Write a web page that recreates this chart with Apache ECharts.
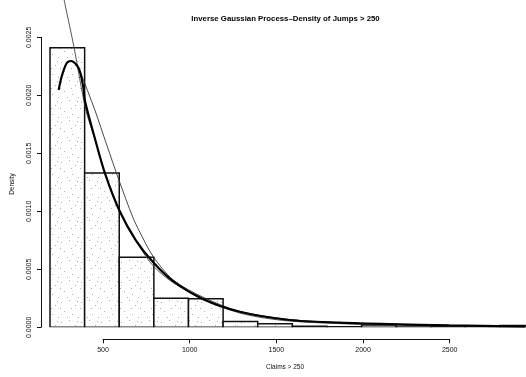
<!DOCTYPE html>
<html>
<head>
<meta charset="utf-8">
<script src="https://cdn.jsdelivr.net/npm/echarts@6/dist/echarts.min.js"></script>
<style>
  html, body { margin: 0; padding: 0; background: #fff; }
  #chart { width: 526px; height: 377px; }
</style>
</head>
<body>
<div id="chart"></div>
<script>
// Histogram of claim sizes above 250 (density scale), bins of width 200
const binEdges = [200, 400, 600, 800, 1000, 1200, 1400, 1600, 1800, 2000, 2200, 2400, 2600, 2800, 3000];
const binDensity = [0.00241, 0.00133, 0.000603, 0.00025, 0.000247, 0.00005, 0.00003,
                    0.000008, 0.000004, 0.00002, 0.000003, 0.000005, 0.000002, 0.000015];

// Fitted inverse Gaussian density (heavy curve)
const igFit = [
  [250, 0.002046], [267, 0.00216], [296, 0.002276], [321, 0.002296], [354, 0.002261],
  [373, 0.002203], [392, 0.002074], [402, 0.001950], [459, 0.00163], [517, 0.00133],
  [603, 0.00100], [696, 0.00075], [796, 0.00056], [909, 0.00040], [1082, 0.000245],
  [1296, 0.000134], [1584, 0.000063], [1873, 0.000040], [2161, 0.000027], [2507, 0.000016],
  [2946, 0.000007]
];

// Comparison density, steep near the threshold (thin curve)
const steepDensity = [
  [250, 0.00305], [286, 0.00279], [338, 0.002419], [407, 0.001873], [465, 0.001597],
  [517, 0.00133], [603, 0.000994], [719, 0.000690], [796, 0.000530], [911, 0.000385],
  [1082, 0.000250], [1296, 0.000123], [1584, 0.000054], [2161, 0.00002], [2946, 0.000003]
];

// Second comparison density (thin curve, right)
const flatDensity = [
  [361, 0.002252], [373, 0.00221], [459, 0.001873], [528, 0.001571], [598, 0.00127],
  [678, 0.000950], [719, 0.00082], [796, 0.000610], [911, 0.000410], [1082, 0.000261],
  [1296, 0.000138], [1584, 0.000067], [1873, 0.000041], [2161, 0.000027], [2507, 0.000016],
  [2946, 0.000007]
];

const yTicks = [0, 0.0005, 0.001, 0.0015, 0.002, 0.0025];
const yTickLabels = ['0.0000', '0.0005', '0.0010', '0.0015', '0.0020', '0.0025'];
const xTicks = [500, 1000, 1500, 2000, 2500];
const xTickLabels = ['500', '1000', '1500', '2000', '2500'];

const titleText = 'Inverse Gaussian Process\u2013Density of Jumps > 250';
const xName = 'Claims > 250';
const yName = 'Density';

// stippled fill for the histogram bars
function stipple() {
  const c = document.createElement('canvas');
  c.width = 20; c.height = 20;
  const g = c.getContext('2d');
  g.fillStyle = '#fff';
  g.fillRect(0, 0, 20, 20);
  const dots = [[1,2],[9,0],[15,5],[4,11],[12,14],[18,17],[7,17],[0,8],[11,8],[17,1]];
  g.fillStyle = '#b0b0b0';
  dots.forEach(d => g.fillRect(d[0], d[1], 1, 1));
  return c;
}

const bins = binDensity.map((d, i) => [binEdges[i], binEdges[i + 1], d]);
const font = 'Liberation Sans, Arial, sans-serif';
const fillPattern = stipple();

const chart = echarts.init(document.getElementById('chart'), null, { renderer: 'canvas' });
chart.setOption({
  animation: false,
  backgroundColor: '#fff',
  grid: [
    { left: 15.4, top: 0.2, width: 511.3, height: 327.1 },   // data region
    { left: 41, top: 37.3, width: 20, height: 290 },          // y axis frame
    { left: 103, top: 330, width: 346.7, height: 9.3 }        // x axis frame
  ],
  xAxis: [
    { gridIndex: 0, type: 'value', min: 0, max: 2950, show: false },
    { gridIndex: 1, type: 'value', min: 0, max: 1, show: false },
    {
      gridIndex: 2, type: 'value', min: 500, max: 2500, interval: 500, position: 'bottom',
      axisLine: { show: true, lineStyle: { color: '#111', width: 1 } },
      axisTick: { show: true, length: 4, lineStyle: { color: '#111' } },
      splitLine: { show: false },
      axisLabel: {
        margin: 7, fontSize: 7, color: '#111', fontFamily: font,
        formatter: v => xTickLabels[xTicks.indexOf(v)]
      }
    }
  ],
  yAxis: [
    { gridIndex: 0, type: 'value', min: 0, max: 0.00282, show: false },
    {
      gridIndex: 1, type: 'value', min: 0, max: 0.0025, interval: 0.0005, position: 'left',
      axisLine: { show: true, lineStyle: { color: '#111', width: 1 } },
      axisTick: { show: true, length: 4, lineStyle: { color: '#111' } },
      splitLine: { show: false },
      axisLabel: {
        rotate: 90, margin: 8, fontSize: 7, color: '#111', fontFamily: font,
        formatter: v => yTickLabels[yTicks.findIndex(t => Math.abs(t - v) < 1e-9)]
      }
    },
    { gridIndex: 2, type: 'value', min: 0, max: 1, show: false }
  ],
  series: [
    {
      type: 'custom',
      xAxisIndex: 0, yAxisIndex: 0,
      data: bins,
      clip: true,
      renderItem: function (params, api) {
        const p0 = api.coord([api.value(0), 0]);
        const p1 = api.coord([api.value(1), api.value(2)]);
        return {
          type: 'rect',
          shape: { x: p0[0], y: p1[1], width: p1[0] - p0[0], height: p0[1] - p1[1] },
          style: { fill: { image: fillPattern, repeat: 'repeat' }, stroke: '#111', lineWidth: 1.5 }
        };
      }
    },
    {
      type: 'line', xAxisIndex: 0, yAxisIndex: 0, data: steepDensity, smooth: 0.3,
      showSymbol: false, clip: true, lineStyle: { color: '#444', width: 0.9 }
    },
    {
      type: 'line', xAxisIndex: 0, yAxisIndex: 0, data: flatDensity, smooth: 0.3,
      showSymbol: false, clip: true, lineStyle: { color: '#333', width: 0.9 }
    },
    {
      type: 'line', xAxisIndex: 0, yAxisIndex: 0, data: igFit, smooth: 0.3,
      showSymbol: false, clip: true, lineStyle: { color: '#000', width: 2.2 }
    }
  ],
  graphic: [
    {
      type: 'text', x: 285.5, y: 19,
      style: { text: titleText, font: 'bold 7.8px ' + font, fill: '#000', textAlign: 'center', textVerticalAlign: 'middle' }
    },
    {
      type: 'text', x: 285, y: 367,
      style: { text: xName, font: '6.5px ' + font, fill: '#111', textAlign: 'center', textVerticalAlign: 'middle' }
    },
    {
      type: 'text', x: 12, y: 184, rotation: Math.PI / 2,
      style: { text: yName, font: '6.5px ' + font, fill: '#111', textAlign: 'center', textVerticalAlign: 'middle' }
    }
  ]
});
</script>
</body>
</html>
